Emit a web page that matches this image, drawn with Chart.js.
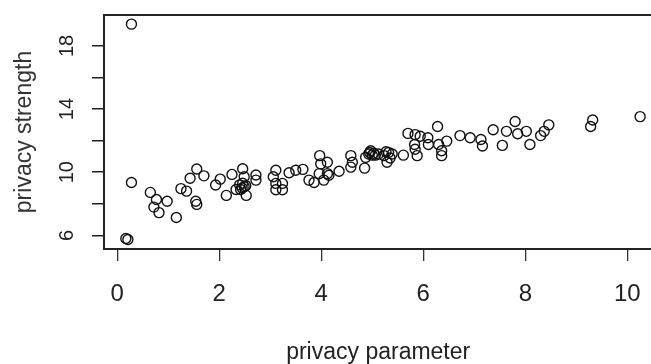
<!DOCTYPE html>
<html>
<head>
<meta charset="utf-8">
<script src="https://cdn.jsdelivr.net/npm/chart.js@4.4.1/dist/chart.umd.min.js"></script>
<style>
  html, body { margin: 0; padding: 0; background: #fff; overflow: hidden; }
  #privacyChart { display: block; }
</style>
</head>
<body>
<canvas id="privacyChart" width="660" height="364"></canvas>
<script>
// privacy parameter (x) and privacy strength (y)
const xValues = [
    0.17, 0.21, 0.28, 0.28, 0.65, 0.77, 0.72, 0.82, 0.98, 1.16,
    1.25, 1.36, 1.43, 1.56, 1.70, 1.54, 1.56, 1.93, 2.02, 2.14,
    2.25, 2.46, 2.49, 2.40, 2.46, 2.49, 2.42, 2.33, 2.53, 2.45,
    2.52, 2.72, 2.72, 3.06, 3.11, 3.11, 3.11, 3.24, 3.24, 3.37,
    3.50, 3.64, 3.76, 3.86, 3.97, 3.99, 4.12, 4.12, 3.96, 4.05,
    4.15, 4.35, 4.58, 4.58, 4.61, 4.85, 4.87, 4.97, 5.00, 4.93,
    4.95, 5.03, 5.06, 5.12, 5.23, 5.29, 5.32, 5.39, 5.27, 5.35,
    5.61, 5.70, 5.84, 5.83, 5.84, 5.88, 5.94, 6.09, 6.10, 6.28,
    6.30, 6.36, 6.36, 6.46, 6.72, 6.92, 7.13, 7.16, 7.37, 7.55,
    7.63, 7.80, 7.85, 8.02, 8.09, 8.30, 8.37, 8.46, 9.28, 9.32,
    10.25
];
const yValues = [
    5.80, 5.74, 9.35, 19.38, 8.72, 8.27, 7.79, 7.44, 8.16, 7.13,
    8.96, 8.80, 9.62, 10.20, 9.77, 8.16, 7.96, 9.19, 9.56, 8.53,
    9.86, 10.22, 9.71, 9.20, 9.30, 9.08, 8.90, 8.90, 8.53, 9.00,
    9.15, 9.82, 9.50, 9.71, 10.12, 9.29, 8.89, 9.29, 8.89, 9.97,
    10.12, 10.18, 9.50, 9.35, 11.05, 10.53, 10.63, 9.91, 9.91, 9.50,
    9.81, 10.06, 11.05, 10.32, 10.63, 10.26, 10.94, 11.36, 11.08, 11.15,
    11.25, 11.20, 11.08, 11.15, 11.05, 10.63, 11.25, 11.15, 11.30, 10.90,
    11.08, 12.46, 12.38, 11.76, 11.45, 11.05, 12.28, 12.18, 11.76, 12.90,
    11.76, 11.36, 11.05, 11.97, 12.32, 12.18, 12.07, 11.66, 12.69, 11.70,
    12.59, 13.21, 12.44, 12.59, 11.76, 12.32, 12.59, 13.00, 12.90, 13.31,
    13.52
];
const xTickStep = 2;
const yTickStep = 2;
const yTickLabels = [6, 10, 14, 18];

const points = xValues.map((x, i) => ({ x: x, y: yValues[i] }));

// box round the plot area, like R's box()
const boxPlugin = {
    id: "plotBox",
    afterDraw(chart) {
        const { ctx, chartArea } = chart;
        ctx.save();
        ctx.strokeStyle = "#222";
        ctx.lineWidth = 2;
        ctx.strokeRect(chartArea.left, chartArea.top,
            chartArea.right - chartArea.left, chartArea.bottom - chartArea.top);
        ctx.restore();
    }
};

// R draws the y labels parallel to the axis
const yLabelPlugin = {
    id: "yLabels",
    afterDraw(chart) {
        const { ctx } = chart;
        const yScale = chart.scales.y;
        ctx.save();
        ctx.fillStyle = "#222";
        ctx.font = "20px 'Liberation Sans', Arial, sans-serif";
        ctx.textAlign = "center";
        ctx.textBaseline = "middle";
        yTickLabels.forEach(v => {
            const py = yScale.getPixelForValue(v);
            ctx.save();
            ctx.translate(67, py);
            ctx.rotate(-Math.PI / 2);
            ctx.fillText(String(v), 0, 0);
            ctx.restore();
        });
        ctx.restore();
    }
};

const ctx = document.getElementById("privacyChart").getContext("2d");

new Chart(ctx, {
    type: "scatter",
    data: {
        datasets: [{
            data: points,
            pointStyle: "circle",
            pointRadius: 5,
            pointHoverRadius: 5,
            backgroundColor: "rgba(0,0,0,0)",
            borderColor: "#111",
            borderWidth: 1.4
        }]
    },
    options: {
        responsive: false,
        animation: false,
        layout: { padding: { top: 9, right: 5, left: 0, bottom: 0 } },
        plugins: {
            legend: { display: false },
            tooltip: { enabled: false }
        },
        scales: {
            x: {
                type: "linear",
                min: -0.258,
                max: 10.49,
                border: { display: false },
                grid: {
                    drawOnChartArea: false,
                    drawTicks: true,
                    tickLength: 12,
                    color: "#333",
                    lineWidth: 1.3
                },
                ticks: {
                    stepSize: xTickStep,
                    includeBounds: false,
                    color: "#222",
                    padding: 19,
                    maxRotation: 0,
                    font: { family: "'Liberation Sans Narrow', 'Arial Narrow', sans-serif", size: 24 }
                },
                title: {
                    display: true,
                    text: "privacy parameter",
                    color: "#222",
                    padding: { top: 0, bottom: 0 },
                    font: { family: "'Liberation Sans Narrow', 'Arial Narrow', sans-serif", size: 23, lineHeight: 1 }
                },
                afterFit: scale => { scale.height = 115; }
            },
            y: {
                type: "linear",
                min: 5.135,
                max: 19.96,
                border: { display: false },
                grid: {
                    drawOnChartArea: false,
                    drawTicks: true,
                    tickLength: 12,
                    color: "#222",
                    lineWidth: 1.5
                },
                ticks: {
                    stepSize: yTickStep,
                    includeBounds: false,
                    color: "rgba(0,0,0,0)",
                    font: { size: 20 }
                },
                title: {
                    display: true,
                    text: "privacy strength",
                    color: "#333",
                    padding: { top: 11, bottom: 0 },
                    font: { family: "'Liberation Sans', Arial, sans-serif", size: 23, lineHeight: 1.2 }
                },
                afterFit: scale => { scale.width = 104; }
            }
        }
    },
    plugins: [boxPlugin, yLabelPlugin]
});
</script>
</body>
</html>
